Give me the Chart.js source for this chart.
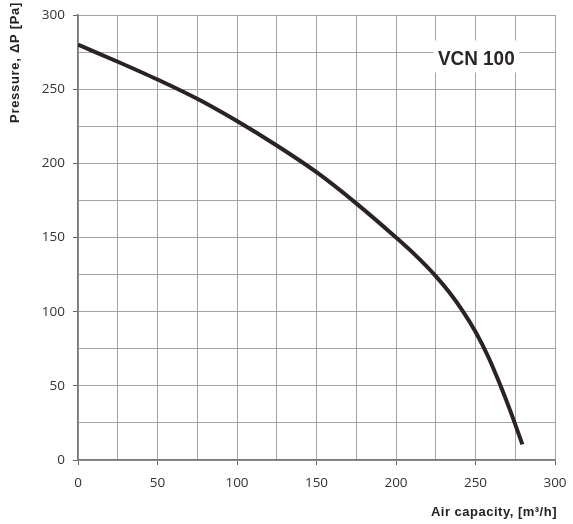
<!DOCTYPE html>
<html><head><meta charset="utf-8">
<script src="https://cdn.jsdelivr.net/npm/chart.js@4.4.1/dist/chart.umd.min.js"></script>
<style>html,body{margin:0;padding:0;background:#fff}#wrap{width:573px;height:524px}</style>
</head><body><div id="wrap"><canvas id="c" width="573" height="524"></canvas></div>
<script>
const airCapacity = [0, 25, 50, 75, 100, 125, 150, 175, 200, 212.5, 225, 233.5, 242, 250, 258, 265, 272, 279.5];
const pressure = [280, 268.5, 256.5, 243.5, 228.5, 212, 194, 173, 150, 137.8, 124, 113.1, 100.4, 86.4, 69.6, 52, 32.8, 10.5];
const seriesLabel = 'VCN 100';
const xTitle = 'Air capacity, [m³/h]';
const yTitle = 'Pressure, ΔP [Pa]';
const axisMin = 0, axisMax = 300, gridStep = 25, labelStep = 50;

const points = airCapacity.map((x, i) => ({x: x, y: pressure[i]}));
const titleFont = '"Liberation Sans", Arial, sans-serif';

const labelPlugin = {
  id: 'labels',
  afterDraw(chart) {
    const ctx = chart.ctx;
    const xs = chart.scales.x, ys = chart.scales.y;
    const cx = xs.getPixelForValue(250.5), cy = ys.getPixelForValue(272);
    ctx.save();
    ctx.fillStyle = '#fff';
    ctx.fillRect(cx - 43, cy - 16, 86, 32);
    ctx.fillStyle = '#2a2526';
    ctx.translate(cx, cy + 8);
    ctx.scale(0.9, 1);
    ctx.font = 'bold 21px ' + titleFont;
    ctx.textAlign = 'center';
    ctx.textBaseline = 'alphabetic';
    ctx.fillText(seriesLabel, 0, 0);
    ctx.restore();

    // x axis title
    ctx.save();
    ctx.font = 'bold 13px ' + titleFont;
    ctx.fillStyle = '#222';
    try { ctx.letterSpacing = '0.5px'; } catch (e) {}
    ctx.textAlign = 'right';
    ctx.textBaseline = 'alphabetic';
    ctx.fillText(xTitle, xs.right + 2, 516);
    ctx.restore();

    // y axis title
    ctx.save();
    ctx.translate(18.5, 2);
    ctx.rotate(-Math.PI / 2);
    ctx.font = 'bold 13px ' + titleFont;
    ctx.fillStyle = '#222';
    try { ctx.letterSpacing = '0.7px'; } catch (e) {}
    ctx.textAlign = 'right';
    ctx.textBaseline = 'alphabetic';
    ctx.fillText(yTitle, 0, 0);
    ctx.restore();
  }
};

const gridCommon = {
  color: '#a3a3a3',
  lineWidth: 1,
  tickLength: 5,
  tickColor: (c) => (c.tick && c.tick.value % labelStep === 0) ? '#666' : 'rgba(0,0,0,0)'
};
const tickFont = {family: '"Open Sans", "DejaVu Sans", sans-serif', size: 13.5};

new Chart(document.getElementById('c'), {
  type: 'scatter',
  data: {
    datasets: [{
      label: seriesLabel,
      data: points,
      showLine: true,
      borderColor: '#2a2224',
      borderWidth: 4,
      pointRadius: 0,
      cubicInterpolationMode: 'monotone',
      fill: false
    }]
  },
  options: {
    responsive: false,
    devicePixelRatio: 1,
    animation: false,
    layout: {padding: {top: 15, right: 18, left: 0, bottom: 0}},
    plugins: {legend: {display: false}, tooltip: {enabled: false}},
    scales: {
      x: {
        type: 'linear', min: axisMin, max: axisMax,
        afterFit: (s) => { s.height = 64; s.paddingLeft = 0; s.paddingRight = 0; },
        grid: gridCommon,
        border: {color: '#777', width: 1.5},
        ticks: {
          stepSize: gridStep, autoSkip: false, maxRotation: 0, padding: 10,
          color: '#333', font: tickFont,
          callback: (v) => v % labelStep === 0 ? String(v) : ''
        }
      },
      y: {
        type: 'linear', min: axisMin, max: axisMax,
        afterFit: (s) => { s.width = 78; s.paddingTop = 0; s.paddingBottom = 0; },
        grid: gridCommon,
        border: {color: '#777', width: 1.5},
        ticks: {
          stepSize: gridStep, autoSkip: false, padding: 8,
          color: '#333', font: tickFont,
          callback: (v) => v % labelStep === 0 ? String(v) : ''
        }
      }
    }
  },
  plugins: [labelPlugin]
});
</script></body></html>
